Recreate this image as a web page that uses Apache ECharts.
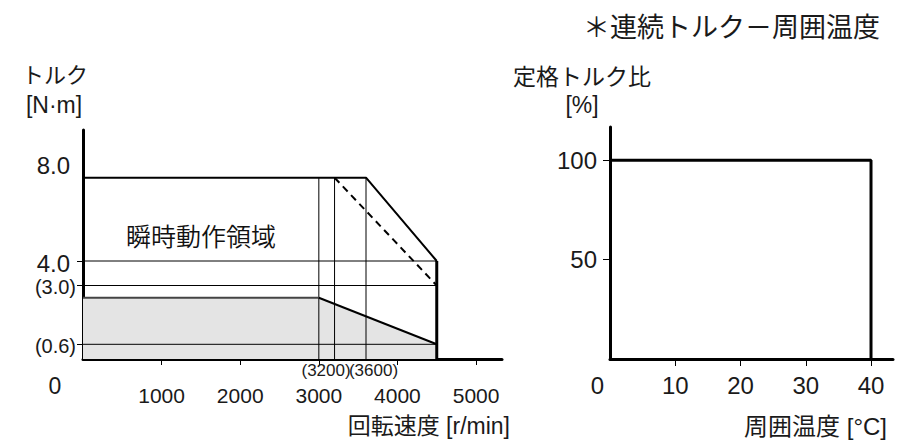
<!DOCTYPE html>
<html>
<head>
<meta charset="utf-8">
<script src="https://cdn.jsdelivr.net/npm/echarts@6/dist/echarts.min.js"></script>
<style>
html,body{margin:0;padding:0;background:#fff;}
#c{width:910px;height:448px;}
</style>
</head>
<body>
<div id="c"></div>
<script>
// ---- data ----
const speedTicks = [1000, 2000, 3000, 4000, 5000];
const speedMarks = [3200, 3600];
const torqueTicks = [0.6, 3.0, 4.0];
const torqueLabels = [0.6, 3.0, 4.0, 8.0];
const refSpeeds = [3000, 3200, 3600];
const refTorques = [0.6, 3.0, 4.0];
const maxSpeed = 4500;
const instSpeed = [0, 3600, 4500];
const instTorque = [7.4, 7.4, 4.0];
const instDashSpeed = [3200, 4500];
const instDashTorque = [7.4, 3.0];
const contSpeed = [0, 3000, 4500];
const contTorque = [2.5, 2.5, 0.6];
const tempTicks = [10, 20, 30, 40];
const tempLabels = [0, 10, 20, 30, 40];
const ratioTicks = [50, 100];
const derateTemp = [0, 40, 40];
const derateRatio = [100, 100, 0];

const LAT = "'Liberation Sans', Arial, sans-serif";
const CJK = "'Liberation Sans', 'Noto Sans CJK JP', sans-serif";
const TXT = '#1a1a1a';

const zip = (xs, ys) => xs.map((x, i) => [x, ys[i]]);
const instTop = instTorque[0];
const boundaryTorque = instTorque[instTorque.length - 1];

function line(data, opts) {
  return Object.assign({
    type: 'line', xAxisIndex: 0, yAxisIndex: 0, data: data,
    symbol: 'none', silent: true, animation: false,
    lineStyle: { color: '#000', width: 1 }
  }, opts || {});
}

const series = [];
series.push(line(zip(contSpeed, contTorque), {
  lineStyle: { width: 0 }, areaStyle: { color: '#e4e4e4', opacity: 1 }, z: 1
}));
refTorques.forEach(t => series.push(line([[0, t], [maxSpeed, t]], { z: 2 })));
refSpeeds.forEach(s => series.push(line([[s, 0], [s, instTop]], { z: 2 })));
series.push(line(zip(contSpeed.slice(0, 2), contTorque.slice(0, 2)), { lineStyle: { color: '#444', width: 2 }, z: 3 }));
series.push(line(zip(contSpeed.slice(1), contTorque.slice(1)), { lineStyle: { color: '#000', width: 2 }, z: 3 }));
series.push(line(zip(instSpeed, instTorque), { lineStyle: { color: '#000', width: 2 }, z: 4 }));
series.push(line(zip(instDashSpeed, instDashTorque), { lineStyle: { color: '#000', width: 2, type: [7, 5] }, z: 4 }));
series.push(line([[maxSpeed, boundaryTorque], [maxSpeed, 0]], { lineStyle: { color: '#000', width: 3 }, z: 4 }));
series.push(line(zip(derateTemp, derateRatio), { xAxisIndex: 4, yAxisIndex: 1, lineStyle: { color: '#000', width: 3 }, z: 4 }));

const axisLineBlack = { show: true, onZero: false, lineStyle: { color: '#000', width: 3 } };

function labelAxis(values, margin, formatter, rich) {
  return {
    type: 'value', gridIndex: 0, min: 0, max: 5330, position: 'bottom',
    axisLine: { show: false }, axisTick: { show: false }, splitLine: { show: false },
    axisLabel: { customValues: values, margin: margin, color: TXT, hideOverlap: false, formatter: formatter, rich: rich }
  };
}

const option = {
  backgroundColor: '#fff',
  animation: false,
  grid: [
    { left: 83, top: 130, width: 419, height: 229, containLabel: false, outerBoundsMode: 'none' },
    { left: 610, top: 127, width: 283, height: 232, containLabel: false, outerBoundsMode: 'none' }
  ],
  xAxis: [
    {
      type: 'value', gridIndex: 0, min: 0, max: 5330, position: 'bottom',
      axisLine: axisLineBlack, splitLine: { show: false },
      axisTick: { show: true, customValues: speedTicks, length: 6, lineStyle: { color: '#000', width: 1 } },
      axisLabel: { customValues: speedTicks, margin: 26, fontFamily: LAT, fontSize: 21, color: TXT, hideOverlap: false, formatter: v => String(v) }
    },
    labelAxis([0], 3, v => '{o|' + v + '}', {
      o: { fontFamily: LAT, fontSize: 23, color: TXT, padding: [12, 56, 0, 0] }
    }),
    labelAxis([speedMarks[0]], 3, v => '{l|(' + v + ')}', {
      l: { fontFamily: LAT, fontSize: 17, color: TXT, padding: [0, 17, 0, 0] }
    }),
    labelAxis([speedMarks[1]], 3, v => '{r|(' + v + ')}', {
      r: { fontFamily: LAT, fontSize: 17, color: TXT, padding: [0, 0, 0, 15] }
    }),
    {
      type: 'value', gridIndex: 1, min: 0, max: 43.37, position: 'bottom',
      axisLine: axisLineBlack, splitLine: { show: false },
      axisTick: { show: true, customValues: tempTicks, length: 7, lineStyle: { color: '#000', width: 1 } },
      axisLabel: {
        customValues: tempLabels, margin: 14, color: TXT, hideOverlap: false,
        formatter: v => v === 0 ? '{o|0}' : '{n|' + v + '}',
        rich: {
          o: { fontFamily: LAT, fontSize: 24, color: TXT, padding: [0, 25, 0, 0] },
          n: { fontFamily: LAT, fontSize: 24, color: TXT }
        }
      }
    }
  ],
  yAxis: [
    {
      type: 'value', gridIndex: 0, min: 0, max: 9.347,
      axisLine: axisLineBlack, splitLine: { show: false },
      axisTick: { show: true, customValues: torqueTicks, length: 6, lineStyle: { color: '#000', width: 1 } },
      axisLabel: {
        customValues: torqueLabels, margin: 7, color: TXT, hideOverlap: false,
        formatter: v => v >= 4 ? '{b|' + v.toFixed(1) + '}' : '{s|(' + v.toFixed(1) + ')}',
        rich: {
          b: { fontFamily: LAT, fontSize: 24, color: TXT, padding: [4, 6, 0, 0] },
          s: { fontFamily: LAT, fontSize: 20, color: TXT, padding: [3, 0, 0, 0] }
        }
      }
    },
    {
      type: 'value', gridIndex: 1, min: 0, max: 116.8,
      axisLine: axisLineBlack, splitLine: { show: false },
      axisTick: { show: true, customValues: ratioTicks, length: 7, lineStyle: { color: '#000', width: 1 } },
      axisLabel: { customValues: ratioTicks, margin: 13, fontFamily: LAT, fontSize: 24, color: TXT, hideOverlap: false }
    }
  ],
  graphic: [
    { type: 'text', x: 880, y: 28, style: { text: '＊連続トルク－周囲温度', font: "27px " + CJK, fill: TXT, align: 'right', verticalAlign: 'middle' } },
    { type: 'text', x: 55, y: 75, style: { text: 'トルク', font: "22px " + CJK, fill: TXT, align: 'center', verticalAlign: 'middle' } },
    { type: 'text', x: 54, y: 105, style: { text: '[N·m]', font: "23px " + LAT, fill: TXT, align: 'center', verticalAlign: 'middle' } },
    { type: 'text', x: 582, y: 77, style: { text: '定格トルク比', font: "23px " + CJK, fill: TXT, align: 'center', verticalAlign: 'middle' } },
    { type: 'text', x: 582, y: 105, style: { text: '[%]', font: "23px " + LAT, fill: TXT, align: 'center', verticalAlign: 'middle' } },
    { type: 'text', x: 510, y: 426, style: { text: '回転速度 [r/min]', font: "23px " + CJK, fill: TXT, align: 'right', verticalAlign: 'middle' } },
    { type: 'text', x: 887, y: 426, style: { text: '周囲温度 [°C]', font: "24px " + CJK, fill: TXT, align: 'right', verticalAlign: 'middle' } },
    { type: 'text', x: 201, y: 237, style: { text: '瞬時動作領域', font: "350 25px " + CJK, fill: '#111', align: 'center', verticalAlign: 'middle' } },
    { type: 'text', x: 201, y: 325, style: { text: '連続動作領域', font: "350 25px " + CJK, fill: '#111', align: 'center', verticalAlign: 'middle' } }
  ],
  series: series
};

const chart = echarts.init(document.getElementById('c'), null, { renderer: 'svg' });
chart.setOption(option);
</script>
</body>
</html>
